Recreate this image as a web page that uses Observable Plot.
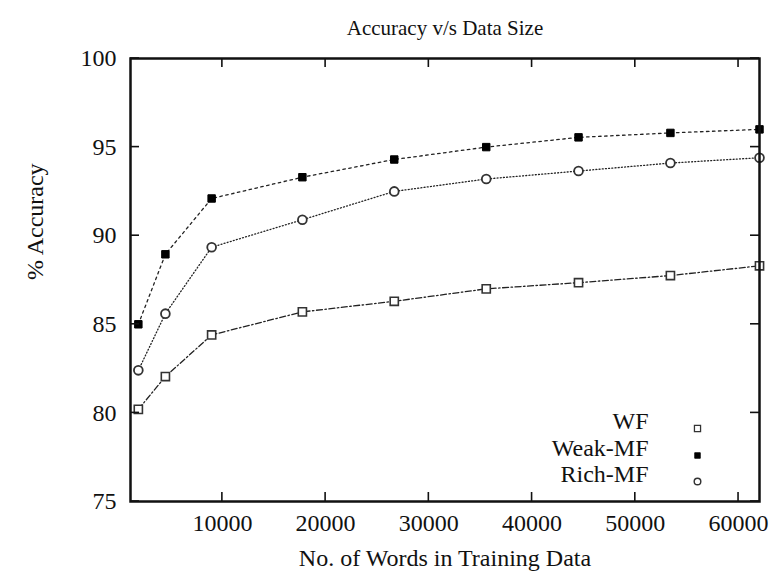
<!DOCTYPE html>
<html>
<head>
<meta charset="utf-8">
<script src="https://cdn.jsdelivr.net/npm/d3@7"></script>
<script src="https://cdn.jsdelivr.net/npm/@observablehq/plot@0.6"></script>
<style>
  html, body { margin: 0; padding: 0; background: #fff; }
  #chart svg, #chart svg text { font-family: "Liberation Serif", "DejaVu Serif", serif; }
</style>
</head>
<body>
<div id="chart"></div>
<script>
// ---- data ----
const chartTitle = "Accuracy v/s Data Size";
const xLabel = "No. of Words in Training Data";
const yLabel = "% Accuracy";
const trainingSizes = [1860, 4480, 8960, 17750, 26650, 35560, 44500, 53400, 62030];
const wfAcc     = [80.2, 82.05, 84.4, 85.7, 86.3, 87.0, 87.35, 87.75, 88.3];
const weakMFAcc = [85.0, 88.95, 92.1, 93.3, 94.3, 95.0, 95.55, 95.8, 96.0];
const richMFAcc = [82.4, 85.6, 89.35, 90.9, 92.5, 93.2, 93.65, 94.1, 94.4];
const seriesNames = ["WF", "Weak-MF", "Rich-MF"];
const xTicks = [10000, 20000, 30000, 40000, 50000, 60000];
const yTicks = [75, 80, 85, 90, 95, 100];
const xDomain = [1100, 62030];
const yDomain = [75, 100];

// ---- build tables ----
const seriesValues = [wfAcc, weakMFAcc, richMFAcc];
const data = seriesNames.flatMap((name, i) =>
  trainingSizes.map((x, j) => ({series: name, x, y: seriesValues[i][j]})));

const serif = "Liberation Serif";
const styles = {
  "WF":      {dash: "6,2.5,1.5,2.5", symbol: "square", fill: "white", stroke: "#333", r: 4.6, sw: 1.6},
  "Weak-MF": {dash: "2.5,3.5",       symbol: "square", fill: "#000",  stroke: "#000", r: 4.2, sw: 1},
  "Rich-MF": {dash: "1,2.2",         symbol: "circle", fill: "white", stroke: "#333", r: 4.4, sw: 1.8}
};

const W = 784, H = 582, mL = 130, mR = 25, mT = 58, mB = 81;
const tickLen = 9;

const marks = [];
for (const name of seriesNames) {
  const s = styles[name];
  marks.push(Plot.line(data.filter(d => d.series === name), {
    x: "x", y: "y", stroke: "#222", strokeWidth: 1.3, strokeDasharray: s.dash
  }));
}
for (const name of seriesNames) {
  const s = styles[name];
  marks.push(Plot.dot(data.filter(d => d.series === name), {
    x: "x", y: "y", symbol: s.symbol, r: s.r, fill: s.fill, stroke: s.stroke, strokeWidth: s.sw
  }));
}
// legend (bottom-right inside the frame)
const legendDy = [-73, -46, -20];
seriesNames.forEach((name, i) => {
  const s = styles[name];
  marks.push(Plot.text([name], {
    text: d => d, frameAnchor: "bottom-right", dx: -111, dy: legendDy[i],
    textAnchor: "end", fontSize: 24, fontFamily: serif, fill: "#111"
  }));
  marks.push(Plot.dot([name], {
    frameAnchor: "bottom-right", dx: -62, dy: legendDy[i],
    symbol: s.symbol, r: s.r * 0.75, fill: s.fill, stroke: s.stroke, strokeWidth: s.sw * 0.8
  }));
});

const chartSvg = Plot.plot({
  width: W,
  height: H,
  marginLeft: mL,
  marginRight: mR,
  marginTop: mT,
  marginBottom: mB,
  style: {background: "white", fontSize: "24px", fontFamily: serif, color: "#111"},
  x: {domain: xDomain},
  y: {domain: yDomain},
  marks: [
    // tick labels
    Plot.axisX(xTicks, {anchor: "bottom", tickSize: 0, tickPadding: 12, label: null, tickFormat: d3.format("d"), fontSize: 24, fontFamily: serif}),
    Plot.axisY(yTicks, {anchor: "left", tickSize: 0, tickPadding: 14, label: null, fontSize: 24, fontFamily: serif}),
    ...marks,
    Plot.frame({stroke: "#111", strokeWidth: 2.5}),
    // titles
    Plot.text([chartTitle], {text: d => d, frameAnchor: "top", dy: -38, fontSize: 21, fontFamily: serif, fill: "#111"}),
    Plot.text([xLabel], {text: d => d, frameAnchor: "bottom", dy: 64, fontSize: 24, fontFamily: serif, fill: "#111"}),
    Plot.text([yLabel], {text: d => d, frameAnchor: "left", dx: -95, rotate: -90, fontSize: 24, fontFamily: serif, fill: "#111"})
  ]
});

// inward tick marks on all four sides, placed with the plot's own scales
(function addInwardTicks(svgNode) {
  const xs = svgNode.scale("x"), ys = svgNode.scale("y");
  const ns = "http://www.w3.org/2000/svg";
  const g = document.createElementNS(ns, "g");
  g.setAttribute("stroke", "#111");
  g.setAttribute("stroke-width", "1.6");
  const addTick = (x1, y1, x2, y2) => {
    const l = document.createElementNS(ns, "line");
    l.setAttribute("x1", x1); l.setAttribute("y1", y1);
    l.setAttribute("x2", x2); l.setAttribute("y2", y2);
    g.appendChild(l);
  };
  const yTop = ys.apply(yDomain[1]), yBottom = ys.apply(yDomain[0]);
  const xLeft = xs.apply(xDomain[0]), xRight = xs.apply(xDomain[1]);
  for (const t of xTicks) {
    const px = xs.apply(t);
    addTick(px, yBottom, px, yBottom - tickLen);
    addTick(px, yTop, px, yTop + tickLen);
  }
  for (const t of yTicks) {
    const py = ys.apply(t);
    addTick(xLeft, py, xLeft + tickLen, py);
    addTick(xRight, py, xRight - tickLen, py);
  }
  svgNode.appendChild(g);
})(chartSvg);

document.getElementById("chart").appendChild(chartSvg);
</script>
</body>
</html>
